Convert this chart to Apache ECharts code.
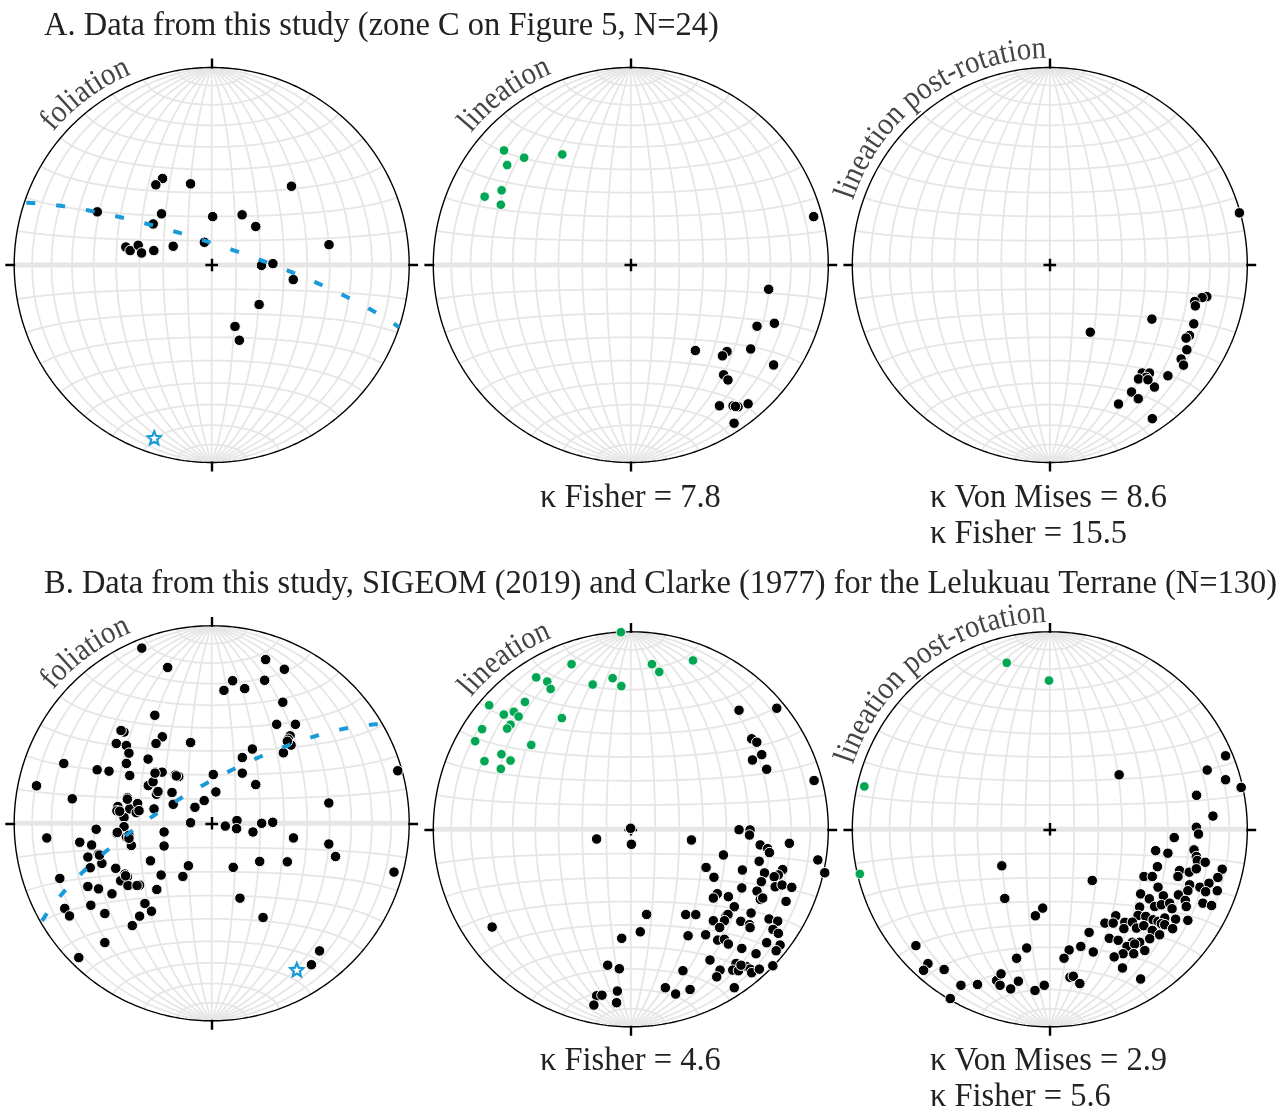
<!DOCTYPE html>
<html><head><meta charset="utf-8">
<script src="https://cdn.jsdelivr.net/npm/echarts/dist/echarts.min.js"></script>
<style>html,body{margin:0;padding:0;background:#fff}#c{width:1281px;height:1110px}</style>
</head><body><div id="c"></div>
<script>
// ---------------- text ----------------
const titleA = 'A. Data from this study (zone C on Figure 5, N=24)';
const titleB = 'B. Data from this study, SIGEOM (2019) and Clarke (1977) for the Lelukuau Terrane (N=130)';
const netLabels = ['foliation', 'lineation', 'lineation post-rotation'];
const kappaA_lin = ['κ Fisher = 7.8'];
const kappaA_rot = ['κ Von Mises = 8.6', 'κ Fisher = 15.5'];
const kappaB_lin = ['κ Fisher = 4.6'];
const kappaB_rot = ['κ Von Mises = 2.9', 'κ Fisher = 5.6'];

// ---------------- data (equal-area projected positions, unit radius: [east, north]) ----------------
const foliA = [[-0.249,0.438],[-0.283,0.406],[-0.107,0.411],[0.404,0.399],[-0.579,0.269],[-0.254,0.259],[-0.296,0.208],
 [0.005,0.245],[0.154,0.254],[0.223,0.195],[-0.435,0.091],[-0.413,0.073],[-0.372,0.100],[-0.355,0.061],[-0.293,0.073],
 [-0.195,0.095],[-0.037,0.115],[0.594,0.103],[0.252,-0.002],[0.310,0.007],[0.413,-0.074],[0.240,-0.200],[0.118,-0.311],[0.140,-0.381]];
const starA = [[-0.291,-0.875]];

const linA_green = [[-0.642,0.580],[-0.540,0.543],[-0.347,0.560],[-0.626,0.506],[-0.654,0.378],[-0.740,0.346],[-0.658,0.305]];
const linA_black = [[0.926,0.245],[0.698,-0.123],[0.639,-0.310],[0.727,-0.295],[0.327,-0.433],[0.487,-0.438],[0.464,-0.460],
 [0.607,-0.425],[0.723,-0.506],[0.470,-0.556],[0.492,-0.582],[0.449,-0.713],[0.518,-0.713],[0.543,-0.718],[0.594,-0.703],
 [0.523,-0.801],[0.530,-0.716]];

const rotA_black = [[0.960,0.264],[0.795,-0.160],[0.771,-0.165],[0.734,-0.185],[0.737,-0.207],[0.517,-0.274],[0.205,-0.340],
 [0.729,-0.298],[0.707,-0.357],[0.690,-0.370],[0.694,-0.429],[0.665,-0.476],[0.677,-0.507],[0.468,-0.547],[0.505,-0.547],
 [0.488,-0.569],[0.449,-0.577],[0.598,-0.561],[0.530,-0.618],[0.414,-0.643],[0.448,-0.677],[0.348,-0.704],[0.519,-0.778],[0.497,-0.581]];

const foliB = [[-0.354,0.887],[-0.223,0.789],[0.273,0.829],[0.368,0.780],[0.106,0.722],[0.062,0.673],[0.167,0.682],[0.268,0.724],
 [0.360,0.613],[-0.288,0.547],[0.329,0.501],[0.424,0.501],[-0.444,0.462],[-0.459,0.470],[-0.250,0.438],[-0.483,0.404],
 [-0.432,0.394],[-0.419,0.355],[-0.282,0.404],[-0.107,0.409],[0.397,0.443],[0.388,0.426],[0.402,0.396],[0.206,0.376],
 [0.363,0.357],[0.155,0.333],[-0.322,0.325],[-0.749,0.303],[-0.432,0.303],[-0.580,0.271],[-0.520,0.264],[-0.415,0.242],
 [-0.285,0.259],[-0.251,0.259],[-0.184,0.245],[-0.167,0.237],[0.008,0.247],[0.155,0.254],[0.223,0.196],[-0.887,0.190],
 [-0.321,0.191],[-0.297,0.210],[-0.272,0.156],[-0.280,0.147],[-0.201,0.156],[0.021,0.159],[-0.706,0.124],[-0.427,0.130],
 [-0.475,0.085],[-0.480,0.063],[-0.415,0.073],[-0.375,0.100],[-0.382,0.054],[-0.368,0.064],[-0.292,0.073],[-0.195,0.096],
 [-0.085,0.081],[-0.038,0.115],[0.593,0.103],[-0.444,0.030],[-0.107,0.003],[-0.444,-0.017],[0.069,-0.014],[0.128,0.014],
 [0.126,-0.027],[0.209,-0.044],[0.253,0.000],[0.309,0.005],[-0.585,-0.030],[-0.480,-0.051],[-0.432,-0.068],[-0.419,-0.061],
 [-0.407,-0.112],[-0.241,-0.044],[-0.835,-0.074],[-0.668,-0.096],[-0.608,-0.110],[0.414,-0.074],[0.593,-0.105],[0.627,-0.168],
 [-0.241,-0.115],[-0.574,-0.157],[-0.627,-0.171],[-0.556,-0.203],[-0.615,-0.225],[-0.310,-0.190],[-0.118,-0.215],[0.109,-0.223],
 [0.243,-0.193],[0.383,-0.195],[-0.486,-0.228],[-0.439,-0.257],[-0.427,-0.271],[-0.461,-0.291],[-0.424,-0.315],[-0.365,-0.313],
 [-0.256,-0.262],[-0.146,-0.269],[-0.769,-0.279],[-0.627,-0.320],[-0.573,-0.332],[-0.505,-0.357],[-0.278,-0.335],[0.143,-0.379],
 [0.923,-0.247],[-0.612,-0.415],[-0.744,-0.431],[-0.720,-0.469],[-0.541,-0.457],[-0.338,-0.406],[-0.305,-0.445],[-0.365,-0.470],
 [-0.402,-0.518],[0.260,-0.477],[-0.541,-0.604],[-0.673,-0.680],[0.546,-0.646],[0.505,-0.716],[0.942,0.266],[-0.436,-0.266],
 [-0.378,-0.315],[0.383,0.415],[-0.466,0.061],[-0.478,-0.046],[-0.287,0.254],[-0.427,0.122],[-0.179,0.240],[-0.568,-0.161],
 [-0.419,-0.076],[-0.272,0.161]];
const starB = [[0.431,-0.741]];

const linB_green = [[-0.050,0.998],[-0.300,0.836],[0.107,0.836],[0.144,0.797],[0.315,0.855],[-0.479,0.769],[-0.423,0.748],
 [-0.406,0.711],[-0.193,0.733],[-0.092,0.765],[-0.048,0.725],[-0.717,0.628],[-0.536,0.645],[-0.643,0.581],[-0.592,0.595],
 [-0.568,0.571],[-0.609,0.530],[-0.626,0.510],[-0.349,0.563],[-0.753,0.507],[-0.788,0.446],[-0.504,0.427],[-0.655,0.380],
 [-0.609,0.348],[-0.741,0.345],[-0.658,0.306]];
const linB_black = [[0.548,0.603],[0.739,0.613],[0.612,0.458],[0.638,0.441],[0.663,0.378],[0.616,0.351],[0.688,0.304],[0.928,0.247],
 [-0.001,0.005],[0.003,-0.076],[-0.173,-0.049],[0.307,-0.054],[0.548,-0.002],[0.604,-0.003],[0.601,-0.029],[0.655,-0.079],
 [0.693,-0.098],[0.702,-0.118],[0.803,-0.071],[0.469,-0.130],[0.650,-0.162],[0.947,-0.155],[0.982,-0.220],[0.381,-0.193],
 [0.565,-0.206],[0.677,-0.221],[0.769,-0.204],[0.747,-0.231],[0.726,-0.240],[0.421,-0.243],[0.661,-0.265],[0.731,-0.291],
 [0.766,-0.282],[0.815,-0.294],[0.562,-0.297],[0.639,-0.313],[0.438,-0.326],[0.418,-0.348],[0.494,-0.341],[0.656,-0.355],
 [0.668,-0.348],[0.786,-0.365],[0.524,-0.392],[0.609,-0.424],[0.482,-0.439],[0.492,-0.431],[0.418,-0.463],[0.474,-0.463],
 [0.557,-0.466],[0.700,-0.454],[0.744,-0.465],[0.601,-0.483],[0.604,-0.498],[0.450,-0.497],[0.720,-0.507],[0.747,-0.527],
 [0.278,-0.432],[0.329,-0.432],[0.080,-0.431],[0.048,-0.519],[0.290,-0.539],[0.379,-0.534],[0.440,-0.561],[0.474,-0.557],
 [0.494,-0.581],[0.688,-0.574],[0.756,-0.586],[0.736,-0.615],[0.562,-0.603],[0.634,-0.630],[0.401,-0.662],[0.533,-0.679],
 [0.587,-0.696],[0.604,-0.708],[0.612,-0.726],[0.651,-0.708],[0.719,-0.691],[0.516,-0.713],[0.545,-0.716],[0.452,-0.713],
 [0.435,-0.747],[0.524,-0.802],[0.264,-0.716],[0.300,-0.811],[0.175,-0.802],[0.227,-0.834],[-0.046,-0.552],[-0.117,-0.688],
 [-0.058,-0.706],[-0.068,-0.819],[-0.072,-0.878],[-0.173,-0.843],[-0.146,-0.840],[-0.187,-0.890],[-0.702,-0.495],[0.558,-0.688]];

const rotB_green = [[-0.218,0.843],[-0.004,0.753],[-0.939,0.217],[-0.962,-0.226]];
const rotB_black = [[0.890,0.372],[0.797,0.300],[0.890,0.251],[0.969,0.212],[0.351,0.276],[0.743,0.172],[0.826,0.067],[0.742,0.010],
 [0.753,-0.024],[0.630,-0.042],[0.536,-0.108],[0.598,-0.121],[0.730,-0.104],[0.742,-0.138],[0.747,-0.158],[0.787,-0.167],
 [0.545,-0.189],[0.657,-0.209],[0.706,-0.217],[0.742,-0.200],[0.873,-0.202],[0.477,-0.239],[0.519,-0.239],[0.649,-0.239],
 [0.851,-0.244],[0.548,-0.293],[0.760,-0.293],[0.806,-0.273],[0.789,-0.316],[0.848,-0.311],[0.708,-0.281],[0.699,-0.311],
 [0.460,-0.327],[0.504,-0.352],[0.575,-0.337],[0.651,-0.332],[0.686,-0.360],[0.775,-0.374],[0.819,-0.386],[0.455,-0.394],
 [0.531,-0.391],[0.565,-0.382],[0.607,-0.374],[0.691,-0.391],[0.619,-0.402],[0.334,-0.438],[0.447,-0.436],[0.486,-0.441],
 [0.523,-0.458],[0.548,-0.466],[0.582,-0.449],[0.637,-0.455],[0.699,-0.461],[0.279,-0.475],[0.321,-0.475],[0.380,-0.471],
 [0.418,-0.470],[0.375,-0.503],[0.439,-0.500],[0.476,-0.488],[0.519,-0.512],[0.565,-0.478],[0.582,-0.483],[0.622,-0.503],
 [0.199,-0.522],[0.301,-0.552],[0.346,-0.562],[0.418,-0.572],[0.455,-0.572],[0.506,-0.554],[0.556,-0.534],[0.391,-0.593],
 [0.430,-0.581],[0.481,-0.614],[0.425,-0.630],[0.371,-0.630],[0.326,-0.646],[0.368,-0.702],[0.157,-0.593],[0.220,-0.621],
 [0.098,-0.611],[0.072,-0.653],[-0.117,-0.601],[-0.168,-0.653],[-0.073,-0.438],[-0.036,-0.399],[-0.243,-0.185],[-0.228,-0.350],
 [0.215,-0.259],[0.460,-0.758],[-0.678,-0.589],[-0.617,-0.680],[-0.639,-0.714],[-0.535,-0.710],[-0.504,-0.857],[-0.450,-0.790],
 [-0.366,-0.786],[-0.269,-0.766],[-0.252,-0.790],[-0.247,-0.732],[-0.198,-0.808],[-0.159,-0.769],[-0.075,-0.816],[-0.028,-0.790],
 [0.102,-0.749],[0.119,-0.744],[0.152,-0.781]];

// ---------------- layout ----------------
const R = 197.5, EXT = 1.06;
const nets = [
  {cx: 211.7, cy: 265.0, label: netLabels[0], black: foliA, green: [], star: starA},
  {cx: 630.8, cy: 265.0, label: netLabels[1], black: linA_black, green: linA_green},
  {cx: 1049.8, cy: 265.0, label: netLabels[2], black: rotA_black, green: []},
  {cx: 211.7, cy: 823.3, label: netLabels[0], black: foliB, green: [], star: starB},
  {cx: 630.8, cy: 829.3, label: netLabels[1], black: linB_black, green: linB_green},
  {cx: 1049.8, cy: 829.3, label: netLabels[2], black: rotB_black, green: rotB_green}
];
const GRID_C = '#e6e6e6', BLUE = '#1b9ad8', GREEN = '#00a651';
const SERIF = '"Liberation Serif", "Times New Roman", serif';
const D = Math.PI / 180;

// Schmidt (equal-area) net construction
function proj(phi, lam) {
  const c = Math.cos(phi) * Math.cos(lam);
  const k = 1 / Math.sqrt(1 + c);
  return [Math.cos(phi) * Math.sin(lam) * k, Math.sin(phi) * k];
}
const netLines = [];
for (let l = -80; l <= 80; l += 10) {
  const pts = []; for (let p = -90; p <= 90; p += 1) pts.push(proj(p * D, l * D));
  netLines.push({coords: pts});
}
for (let p = -80; p <= 80; p += 10) {
  if (p === 0) continue;
  const pts = []; for (let l = -90; l <= 90; l += 1) pts.push(proj(p * D, l * D));
  netLines.push({coords: pts});
}
const circle = []; for (let a = 0; a <= 360; a += 1) circle.push([Math.sin(a * D), Math.cos(a * D)]);

// great circle whose pole is the given projected point
function greatCircle(px, py) {
  const r2 = px * px + py * py, d = 1 - r2, h = Math.sqrt(1 - d * d), r = Math.sqrt(r2);
  const e = px / r * h, n = py / r * h;
  const u = [n / h, -e / h, 0];
  let v = [n * u[2] - d * u[1], d * u[0] - e * u[2], e * u[1] - n * u[0]];
  if (v[2] < 0) v = v.map(a => -a);
  const pts = [];
  for (let t = 0; t <= 180; t += 1) {
    const c = Math.cos(t * D), s = Math.sin(t * D);
    const w = [c * u[0] + s * v[0], c * u[1] + s * v[1], c * u[2] + s * v[2]];
    const k = 1 / Math.sqrt(1 + w[2]);
    pts.push([w[0] * k, w[1] * k]);
  }
  return pts;
}

const grids = [], xAxes = [], yAxes = [], series = [], graphics = [];
const starPath = 'path://M12,1.5 L14.9,8.4 L22.3,9.1 L16.7,14 L18.4,21.3 L12,17.5 L5.6,21.3 L7.3,14 L1.7,9.1 L9.1,8.4 Z';
const tk = 0.045, cr = 0.032;

nets.forEach((nt, i) => {
  const half = R * EXT;
  grids.push({left: nt.cx - half, top: nt.cy - half, width: 2 * half, height: 2 * half});
  xAxes.push({gridIndex: i, type: 'value', min: -EXT, max: EXT, show: false});
  yAxes.push({gridIndex: i, type: 'value', min: -EXT, max: EXT, show: false});
  const ax = {xAxisIndex: i, yAxisIndex: i, silent: true};
  series.push(Object.assign({type: 'lines', coordinateSystem: 'cartesian2d', polyline: true, data: netLines,
    lineStyle: {color: GRID_C, width: 1.8, opacity: 1}, z: 1}, ax));
  series.push(Object.assign({type: 'line', data: [[-1, 0], [1, 0]], showSymbol: false,
    lineStyle: {color: GRID_C, width: 5}, z: 2}, ax));
  series.push(Object.assign({type: 'line', data: circle, showSymbol: false,
    lineStyle: {color: '#000', width: 1.4}, z: 3}, ax));
  series.push(Object.assign({type: 'lines', coordinateSystem: 'cartesian2d', data: [
      {coords: [[0, 1 - 0.005], [0, 1 + tk]]}, {coords: [[0, -1 + 0.005], [0, -1 - tk]]},
      {coords: [[1 - 0.005, 0], [1 + tk, 0]]}, {coords: [[-1 + 0.005, 0], [-1 - tk, 0]]},
      {coords: [[-cr, 0], [cr, 0]]}, {coords: [[0, -cr], [0, cr]]}],
    lineStyle: {color: '#000', width: 2.4, opacity: 1}, z: 4}, ax));
  if (nt.green.length) series.push(Object.assign({type: 'scatter', data: nt.green, symbolSize: 9.5,
    itemStyle: {color: GREEN, borderColor: '#fff', borderWidth: 0.8, opacity: 1}, z: 6}, ax));
  series.push(Object.assign({type: 'scatter', data: nt.black, symbolSize: 10.5,
    itemStyle: {color: '#000', borderColor: '#fff', borderWidth: 1, opacity: 1}, z: 6}, ax));
  if (nt.star) {
    series.push(Object.assign({type: 'line', data: greatCircle(nt.star[0][0], nt.star[0][1]), showSymbol: false,
      lineStyle: {color: BLUE, width: 4, type: [9, 21], dashOffset: -2}, z: 7}, ax));
    series.push(Object.assign({type: 'scatter', data: nt.star, symbol: starPath, symbolSize: 13,
      itemStyle: {color: '#fff', borderColor: BLUE, borderWidth: 2.2, opacity: 1}, z: 8}, ax));
  }
});

// curved labels along the primitive
const cv = document.createElement('canvas').getContext('2d');
const LFS = 32, LSX = 0.9;
cv.font = LFS + 'px ' + SERIF;
nets.forEach(nt => {
  const txt = nt.label, rBase = R + 8.5, rMid = rBase + 0.3 * LFS;
  const widths = [...txt].map(ch => cv.measureText(ch).width * LSX);
  const W = widths.reduce((a, b) => a + b, 0);
  const center = -36.4 * D;
  let s = -W / 2;
  [...txt].forEach((ch, k) => {
    const phi = center + (s + widths[k] / 2) / rBase;
    s += widths[k];
    graphics.push({type: 'text', x: nt.cx + rMid * Math.sin(phi), y: nt.cy - rMid * Math.cos(phi), rotation: -phi,
      scaleX: LSX, silent: true,
      style: {text: ch, font: LFS + 'px ' + SERIF, fill: '#444', align: 'center', verticalAlign: 'middle'}});
  });
});

function addText(t, x, y) {
  graphics.push({type: 'text', x: x, y: y, scaleX: 0.955, silent: true,
    style: {text: t, font: '34px ' + SERIF, fill: '#222', align: 'left', verticalAlign: 'middle'}});
}
addText(titleA, 44, 26);
addText(titleB, 44, 584);
addText(kappaA_lin[0], 540, 498);
addText(kappaA_rot[0], 930, 498);
addText(kappaA_rot[1], 930, 534);
addText(kappaB_lin[0], 540, 1061);
addText(kappaB_rot[0], 930, 1061);
addText(kappaB_rot[1], 930, 1097);

const chart = echarts.init(document.getElementById('c'), null, {renderer: 'canvas'});
chart.setOption({animation: false, backgroundColor: '#fff', grid: grids, xAxis: xAxes, yAxis: yAxes,
  series: series, graphic: {elements: graphics}});
</script></body></html>
